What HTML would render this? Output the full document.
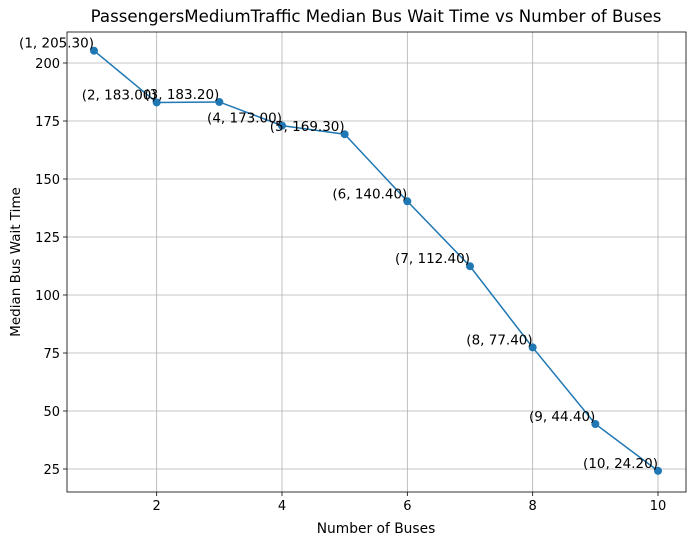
<!DOCTYPE html>
<html><head><meta charset="utf-8"><style>
body{margin:0;background:#fff;}
svg{font-family:"DejaVu Sans","Liberation Sans",sans-serif;}
</style></head><body>
<svg id="chart" width="695" height="545" viewBox="0 0 695 545">
<rect width="695" height="545" fill="#fff"/>
<g id="grid"></g>
<g id="series"></g>
<g id="axes"></g>
</svg>
<script>
const categories=[1,2,3,4,5,6,7,8,9,10];
const values=[205.3,183.0,183.2,173.0,169.3,140.4,112.4,77.4,44.4,24.2];
const xTicks=[2,4,6,8,10];
const yTicks=[25,50,75,100,125,150,175,200];
const L=67,R=686,T=32,B=492;
const xs=v=>94+(v-1)*(658-94)/9;
const ys=v=>63+(200-v)*(469-63)/175;
const NS='http://www.w3.org/2000/svg';
function mk(tag,attrs,parent,text){const e=document.createElementNS(NS,tag);for(const k in attrs)e.setAttribute(k,attrs[k]);if(text!==undefined)e.textContent=text;parent.appendChild(e);return e;}
const grid=document.getElementById('grid'),series=document.getElementById('series'),axes=document.getElementById('axes');
xTicks.forEach(t=>{const x=xs(t);
const g=mk('line',{x1:x,x2:x,y1:T,y2:B,stroke:'#b0b0b0','stroke-width':0.8},grid);


mk('line',{x1:x,x2:x,y1:B,y2:B+4,stroke:'#000','stroke-width':0.8},axes);
const l=mk('text',{x:x,y:B+18,'font-size':13,'text-anchor':'middle'},axes,t);

});
yTicks.forEach(t=>{const y=ys(t);
const g=mk('line',{x1:L,x2:R,y1:y,y2:y,stroke:'#b0b0b0','stroke-width':0.8},grid);


mk('line',{x1:L-4,x2:L,y1:y,y2:y,stroke:'#000','stroke-width':0.8},axes);
const l=mk('text',{x:L-7,y:y+5,'font-size':13,'text-anchor':'end'},axes,t);

});
const fr=mk('rect',{x:L,y:T,width:R-L,height:B-T,fill:'none',stroke:'#000','stroke-width':0.8},axes);


const pts=categories.map((c,i)=>xs(c)+','+ys(values[i])).join(' ');
const line=mk('polyline',{points:pts,fill:'none',stroke:'#1f77b4','stroke-width':1.5},series);


categories.forEach((c,i)=>{const x=xs(c),y=ys(values[i]);
const p=mk('circle',{cx:x,cy:y,r:4,fill:'#1f77b4'},series);


const a=mk('text',{x:x,y:y-3,'font-size':13.5,'text-anchor':'end'},series,'('+c+', '+values[i].toFixed(2)+')');

});
const t=mk('text',{x:376,y:22,'font-size':16.6,'text-anchor':'middle'},axes,'PassengersMediumTraffic Median Bus Wait Time vs Number of Buses');


const xt=mk('text',{x:376,y:533,'font-size':13.8,'text-anchor':'middle'},axes,'Number of Buses');


const yt=mk('text',{x:20,y:262,'font-size':13.5,'text-anchor':'middle',transform:'rotate(-90 20 262)'},axes,'Median Bus Wait Time');


</script>
</body></html>
